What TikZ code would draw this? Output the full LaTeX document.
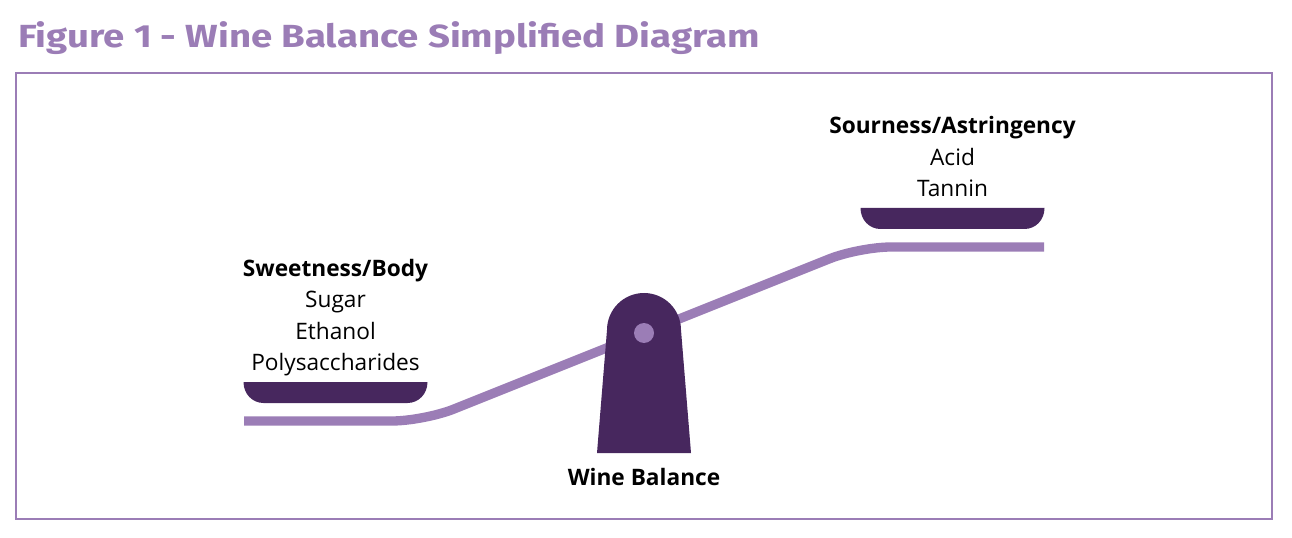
\documentclass[tikz,border=0pt]{standalone}
\usepackage{fontspec}
\setmainfont{Open Sans}
\newfontfamily\titlefont{Fira Sans}
\usetikzlibrary{positioning}
\definecolor{lightpurple}{RGB}{155,125,182}
\definecolor{darkpurple}{RGB}{71,39,94}
\tikzset{
  beam/.style={draw=lightpurple,line width=7pt,rounded corners=24pt},
  itemlabel/.style={align=center,inner sep=0pt,text depth=0pt,font=\fontsize{17}{23.6}\selectfont},
  pics/pan/.style={code={
    \fill[darkpurple] (-92,0) -- (92,0) .. controls (92,12) and (83,21) .. (72,21)
      -- (-72,21) .. controls (-83,21) and (-92,12) .. (-92,0) -- cycle;
    },
  },
}

\begin{document}
\begin{tikzpicture}[x=0.75pt,y=-0.75pt]
  \useasboundingbox (0,0) rectangle (1292,538);
  %TITLE
  \node[anchor=base west,inner sep=0pt,text=lightpurple,font=\titlefont\bfseries\fontsize{24}{30}\selectfont,xscale=1.2,transform shape] (title) at (18,48) {Figure 1 - Wine Balance Simplified Diagram};
  %FRAME
  \draw[lightpurple,line width=1.5pt] (16,73) rectangle (1272,519);

  %BEAM
  \coordinate (lend) at (244,421);
  \coordinate (rend) at (1044,247);
  \draw[beam] (lend) -- (424,421) -- (859,247) -- (rend);

  %FULCRUM
  \fill[darkpurple] (597,453) -- (607,330) arc[start angle=180,end angle=0,radius=27.75pt] -- (691,453) -- cycle;
  \node[circle,fill=lightpurple,minimum size=15pt,inner sep=0pt] (pivot) at (644,333) {};
  \node[itemlabel,font=\fontsize{17}{23.6}\selectfont\bfseries,anchor=base] (balance) at (644,485) {Wine Balance};

  %PANS
  \coordinate (lpan) at (335.5,382);
  \coordinate (rpan) at (952.5,208);
  \pic at (lpan) {pan};
  \pic at (rpan) {pan};

  %LABELS
  \node[itemlabel,above=8.25pt of lpan] (sweet) {\textbf{Sweetness/Body}\\Sugar\\Ethanol\\Polysaccharides};
  \node[itemlabel,above=8.25pt of rpan] (sour) {\textbf{Sourness/Astringency}\\Acid\\Tannin};
\end{tikzpicture}
\end{document}
